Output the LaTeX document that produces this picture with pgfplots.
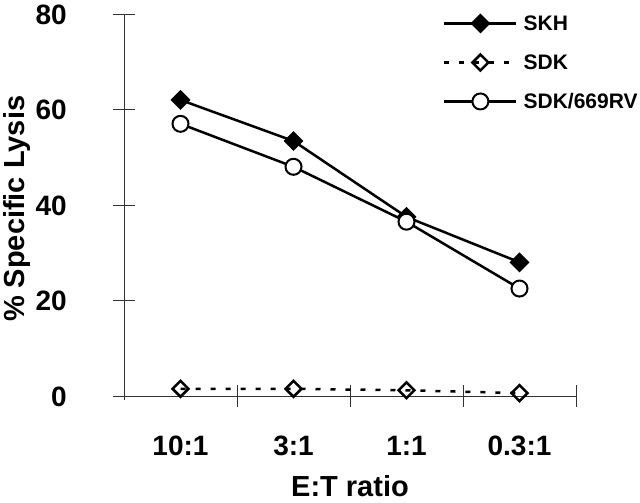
\documentclass[border=0pt]{standalone}
\usepackage{pgfplots}
\pgfplotsset{compat=1.18}
\usepackage{fontspec}
\setmainfont{Liberation Sans}
\begin{document}
\begin{tikzpicture}
\path[use as bounding box] (0,0) rectangle (640bp,503bp);
\begin{axis}[
  at={(124bp,107bp)}, anchor=south west,
  scale only axis, width=452bp, height=382bp,
  xmin=-0.5, xmax=3.5, ymin=0, ymax=80,
  clip=false,
  axis x line*=bottom, axis y line*=left,
  axis line style={line width=1bp, black!80, -},
  every tick/.style={line width=1bp, black!80},
  tick align=center, major tick length=22bp,
  xtick={0.5,1.5,2.5,3.5}, xticklabels={},
  extra x ticks={0,1,2,3},
  extra x tick labels={10:1,3:1,1:1,0.3:1},
  extra x tick style={major tick length=0pt},
  ytick={0,20,40,60,80},
  /pgf/number format/assume math mode=true,
  tick label style={font=\bfseries\fontsize{28bp}{28bp}\selectfont, inner sep=0pt, text height=20bp, text depth=0pt},
  xticklabel style={anchor=north, yshift=-39bp},
  yticklabel style={anchor=east, xshift=-46bp},
  xlabel={E:T ratio},
  xlabel style={at={(axis description cs:0.5,0)}, anchor=north, inner sep=0pt, text height=21bp, text depth=0pt, yshift=-79bp, font=\bfseries\fontsize{29bp}{29bp}\selectfont},
  ylabel={\% Specific Lysis},
  ylabel style={at={(axis description cs:-0.265,0.49)}, anchor=north, inner sep=0pt, text height=20bp, text depth=0pt, rotate=0, font=\bfseries\fontsize{29bp}{29bp}\selectfont},
  legend style={draw=none, fill=none, at={(0.699,1.0026)}, anchor=north west,
    font=\bfseries\fontsize{21bp}{21bp}\selectfont,
    nodes={inner sep=0pt, text height=14bp, text depth=0pt},
    row sep=23bp, column sep=0pt,
    /tikz/every odd column/.append style={column sep=6bp}},
  legend cell align=left,
  legend image code/.code={\draw[mark repeat=2, mark phase=2, #1] plot coordinates {(0bp,0bp) (36bp,0bp) (72bp,0bp)};},
]
\addplot[black, line width=2.5bp, mark=square*, mark size=5.8bp, mark options={rotate=45, solid, fill=black}]
  coordinates {(0,62) (1,53.4) (2,37.5) (3,28)};
\addlegendentry{SKH}
\addplot[black, line width=2.5bp, dash pattern=on 5bp off 10bp, mark=square, mark size=5.6bp, mark options={rotate=45, solid}]
  coordinates {(0,1.5) (1,1.5) (2,1.2) (3,0.6)};
\addlegendentry{SDK}
\addplot[black, line width=2.5bp, mark=*, mark size=8bp, mark options={fill=white, line width=2bp}]
  coordinates {(0,57) (1,48) (2,36.5) (3,22.5)};
\addlegendentry{SDK/669RV}
\draw[black!80, line width=1bp] ([yshift=-4bp]axis cs:-0.5,0) -- (axis cs:-0.5,0);
\end{axis}
\end{tikzpicture}
\end{document}
